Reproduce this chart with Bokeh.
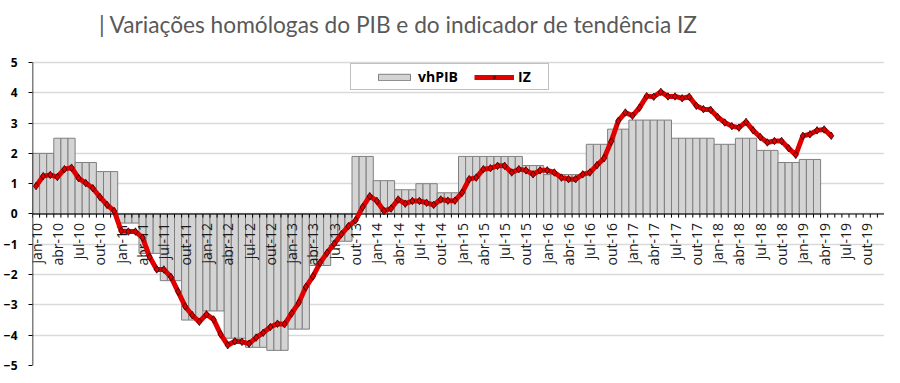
import numpy as np
from bokeh.plotting import figure
from bokeh.models import FixedTicker, Legend, LegendItem, ColumnDataSource, Label
from bokeh.core.properties import value
from bokeh.embed import file_html
from bokeh.resources import INLINE

# ---------------- data ----------------
title_text = "| Variações homólogas do PIB e do indicador de tendência IZ"
years = ["10", "11", "12", "13", "14", "15", "16", "17", "18", "19"]
month_names = ["jan", "fev", "mar", "abr", "mai", "jun", "jul", "ago", "set", "out", "nov", "dez"]
label_months = ["jan", "abr", "jul", "out"]

# vhPIB: quarterly year-on-year GDP change (2010Q1 .. 2019Q1)
vhpib_q = [2.0, 2.5, 1.7, 1.4,
           -0.3, -1.3, -2.2, -3.5,
           -3.2, -4.1, -4.4, -4.5,
           -3.8, -1.7, -0.9, 1.9,
           1.1, 0.8, 1.0, 0.7,
           1.9, 1.9, 1.9, 1.6,
           1.3, 1.3, 2.3, 2.8,
           3.1, 3.1, 2.5, 2.5,
           2.3, 2.5, 2.1, 1.7,
           1.8]

# IZ: monthly trend indicator (jan-10 .. mai-19)
iz = [0.92, 1.25, 1.29, 1.22, 1.48, 1.53, 1.18, 1.02, 0.85, 0.56, 0.30, 0.10,
      -0.56, -0.58, -0.58, -0.78, -1.42, -1.83, -1.83, -2.08, -2.56, -3.05, -3.34, -3.56,
      -3.31, -3.48, -3.97, -4.33, -4.20, -4.22, -4.28, -4.08, -3.92, -3.73, -3.62, -3.64,
      -3.28, -2.93, -2.41, -2.06, -1.61, -1.28, -0.98, -0.67, -0.40, -0.21, 0.23, 0.59,
      0.43, 0.10, 0.18, 0.48, 0.34, 0.43, 0.43, 0.37, 0.30, 0.48, 0.44, 0.44,
      0.70, 1.15, 1.20, 1.48, 1.51, 1.59, 1.59, 1.37, 1.48, 1.44, 1.31, 1.44,
      1.44, 1.37, 1.20, 1.15, 1.15, 1.31, 1.37, 1.61, 1.84, 2.39, 3.07, 3.35,
      3.24, 3.51, 3.89, 3.87, 4.03, 3.88, 3.88, 3.82, 3.87, 3.57, 3.46, 3.44,
      3.20, 3.02, 2.90, 2.85, 3.04, 2.76, 2.54, 2.36, 2.41, 2.41, 2.17, 1.95,
      2.58, 2.63, 2.76, 2.79, 2.58]

y_ticks = [-5, -4, -3, -2, -1, 0, 1, 2, 3, 4, 5]

# ---------------- derived tables ----------------
months = [f"{m}-{y}" for y in years for m in month_names]
n = len(months)
centers = np.arange(n) + 0.5

bar_vals = np.repeat(vhpib_q, 3)
bar_src = ColumnDataSource(dict(x=centers[:len(bar_vals)], top=bar_vals))
iz_src = ColumnDataSource(dict(x=centers[:len(iz)], y=iz))

lab_idx = [i for i, m in enumerate(months) if m.split("-")[0] in label_months]
lab_src = ColumnDataSource(dict(x=centers[lab_idx], y=np.zeros(len(lab_idx)),
                                text=[months[i] for i in lab_idx]))
bounds = np.arange(n + 1)

# ---------------- figure ----------------
# frame extends to the top of the canvas so the title can live inside it
p = figure(width=884, height=375, x_range=(0, n), y_range=(-5, 7.046),
           output_backend="svg", toolbar_location=None, x_axis_location=None,
           min_border_left=24, min_border_right=0, min_border_top=0, min_border_bottom=10)

p.add_layout(Label(x=9.35, y=6.27, text=title_text,
                   text_font="Lato", text_font_size="22.7px", text_color="#595959",
                   text_align="left", text_baseline="alphabetic"))

p.outline_line_color = None
p.xgrid.visible = False

p.yaxis.ticker = FixedTicker(ticks=y_ticks)
p.yaxis.major_label_text_font = "Open Sans"
p.yaxis.major_label_text_font_style = "bold"
p.yaxis.major_label_text_font_size = "12px"
p.yaxis.major_label_text_color = "#000000"
p.yaxis.axis_line_color = None
p.yaxis.major_tick_line_color = "#000000"
p.yaxis.major_tick_out = 4
p.yaxis.major_tick_in = 0
p.yaxis.minor_tick_line_color = None
p.yaxis.major_label_standoff = 11

p.ygrid.ticker = FixedTicker(ticks=y_ticks)
p.ygrid.grid_line_color = "#d9d9d9"
p.ygrid.grid_line_width = 1.5

bars = p.vbar(x="x", top="top", width=1, bottom=0, source=bar_src,
              fill_color="#d4d4d4", line_color="#7f7f7f", line_width=1)

# value axis line (only over the tick span) and category axis at zero
p.segment(x0=0, x1=0, y0=min(y_ticks), y1=max(y_ticks), line_color="#000000", line_width=1.5)
p.segment(x0=0, x1=n, y0=0, y1=0, line_color="#000000", line_width=1)
p.segment(x0=bounds, x1=bounds, y0=np.zeros(n + 1), y1=np.full(n + 1, -0.12),
          line_color="#000000", line_width=1)

p.text(x="x", y="y", text="text", source=lab_src, angle=np.pi / 2,
       text_align="right", text_baseline="middle", y_offset=9,
       text_font=value("Open Sans"), text_font_size="14px", text_color="#1a1a1a")

line = p.line(x="x", y="y", source=iz_src, line_color="#e00000", line_width=5)
pts = p.scatter(x="x", y="y", source=iz_src, marker="diamond", size=7.5,
                fill_color="#e00000", line_color="#300000", line_width=0.8)

legend = Legend(items=[LegendItem(label="vhPIB", renderers=[bars]),
                       LegendItem(label="IZ", renderers=[line, pts])],
                orientation="horizontal", location=(318, 275))
legend.title = " "
legend.title_location = "left"
legend.title_text_font_size = "2px"
legend.title_standoff = 18
legend.label_text_font = "Open Sans"
legend.label_text_font_style = "bold"
legend.label_text_font_size = "14px"
legend.label_text_color = "#000000"
legend.glyph_width = 40
legend.glyph_height = 8
legend.label_height = 14
legend.label_width = 27
legend.label_standoff = 4
legend.spacing = 16
legend.padding = 3
legend.margin = 0
legend.border_line_color = "#808080"
legend.border_line_width = 1
legend.background_fill_color = "#ffffff"
legend.background_fill_alpha = 1
p.add_layout(legend)

open("out.html", "w").write(file_html(p, INLINE))
